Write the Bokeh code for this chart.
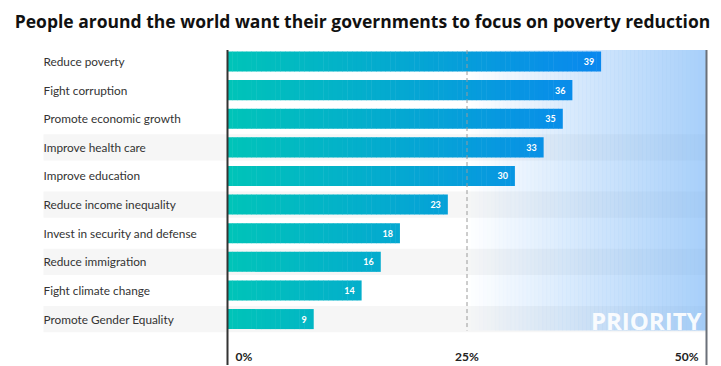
import math
from bokeh.plotting import figure
from bokeh.models import Range1d, Label
from bokeh.core.properties import value
from bokeh.embed import file_html
from bokeh.resources import INLINE

# ---- data ----
categories = ["Reduce poverty", "Fight corruption", "Promote economic growth",
              "Improve health care", "Improve education", "Reduce income inequality",
              "Invest in security and defense", "Reduce immigration",
              "Fight climate change", "Promote Gender Equality"]
values = [39, 36, 35, 33, 30, 23, 18, 16, 14, 9]
tick_values = [0, 25, 50]
tick_labels = ["0%", "25%", "50%"]
title_text = "People around the world want their governments to focus on poverty reduction"

# ---- layout ----
W, H = 720, 365
x0_px, x50_px = 227.0, 706.0
ppu = (x50_px - x0_px) / 50.0
row0_px, pitch = 61.0, 28.62
FONT = "Lato"

x_start = -x0_px / ppu
x_end = 50 + (W - x50_px) / ppu
y_top = -row0_px / pitch
y_bot = (H - row0_px) / pitch

p = figure(width=W, height=H, output_backend="svg", toolbar_location=None,
           x_range=Range1d(x_start, x_end), y_range=Range1d(y_bot, y_top),
           min_border=0, outline_line_color=None)
p.axis.visible = False
p.grid.visible = False
p.background_fill_color = "white"

rows = list(range(len(categories)))
label_x = (43 - x0_px) / ppu

# stripes
stripe_rows = [r for r in rows if r % 2 == 1 and r >= 3]
p.quad(left=[label_x] * len(stripe_rows), right=[50] * len(stripe_rows),
       top=[r - 0.46 for r in stripe_rows], bottom=[r + 0.46 for r in stripe_rows],
       fill_color="#f6f6f6", line_color=None)

# gradient priority zone 25 -> 50
nz = 60
zl = [25 + 25 * i / nz for i in range(nz)]
zr = [25 + 25 * (i + 1) / nz + 0.02 for i in range(nz)]
za = [0.55 * (i + 0.5) / nz for i in range(nz)]
p.quad(left=zl, right=zr, top=[-0.4] * nz, bottom=[9.4] * nz,
       fill_color="#5fa8f5", fill_alpha=za, line_color=None)

# bars with horizontal gradient (colour depends on absolute x)
c0 = (0, 196, 184)
c1 = (10, 134, 240)
def col(x):
    t = max(0.0, min(1.0, x / 40.0))
    r = [round(c0[k] + (c1[k] - c0[k]) * t) for k in range(3)]
    return "#%02x%02x%02x" % tuple(r)

bl, br, bt, bb, bc = [], [], [], [], []
step = 0.5
for r, v in zip(rows, values):
    n = int(math.ceil(v / step))
    for i in range(n):
        a = i * step
        b = min(v, (i + 1) * step)
        bl.append(a)
        br.append(min(v, b + 0.05))
        bt.append(r - 0.35)
        bb.append(r + 0.35)
        bc.append(col((a + b) / 2))
p.quad(left=bl, right=br, top=bt, bottom=bb, fill_color=bc, line_color=None)

# dashed 25% line
p.segment(x0=[25], x1=[25], y0=[-0.4], y1=[9.4], line_color="#9a9a9a",
          line_width=1, line_dash="4 3")

# vertical frame lines
p.segment(x0=[0], x1=[0], y0=[-0.4], y1=[y_bot], line_color="#333333", line_width=2)
p.segment(x0=[50], x1=[50], y0=[-0.4], y1=[y_bot], line_color="#6b7079", line_width=2)

# value labels
p.text(x=values, y=rows, text=[str(v) for v in values], x_offset=-7,
       text_align="right", text_baseline="middle", text_color="white",
       text_font=value(FONT), text_font_style="bold", text_font_size="9px")

# category labels
p.text(x=[label_x] * len(rows), y=rows, text=categories, text_align="left",
       text_baseline="middle", text_color="#333333", text_font=value(FONT),
       text_font_size="11.8px")

# PRIORITY
p.text(x=[50], y=[9.05], text=["PRIORITY"], x_offset=-5, text_align="right",
       text_baseline="middle", text_color="white", text_alpha=0.92,
       text_font=value("Open Sans"), text_font_style="bold", text_font_size="24px")

# tick labels
ty = (356 - row0_px) / pitch
aligns = ["left", "center", "right"]
offs = [8, 0, -8]
for tv, tl, al, of in zip(tick_values, tick_labels, aligns, offs):
    p.text(x=[tv], y=[ty], text=[tl], x_offset=of, text_align=al,
           text_baseline="middle", text_color="#222222", text_font=value(FONT),
           text_font_style="bold", text_font_size="12px")

# title
p.add_layout(Label(x=362, y=H - 20, x_units="screen", y_units="screen",
                   text=title_text, text_align="center", text_baseline="middle",
                   text_font="Open Sans", text_font_style="bold", text_font_size="17.5px",
                   text_color="#111111"))

open("out.html", "w").write(file_html(p, INLINE))
